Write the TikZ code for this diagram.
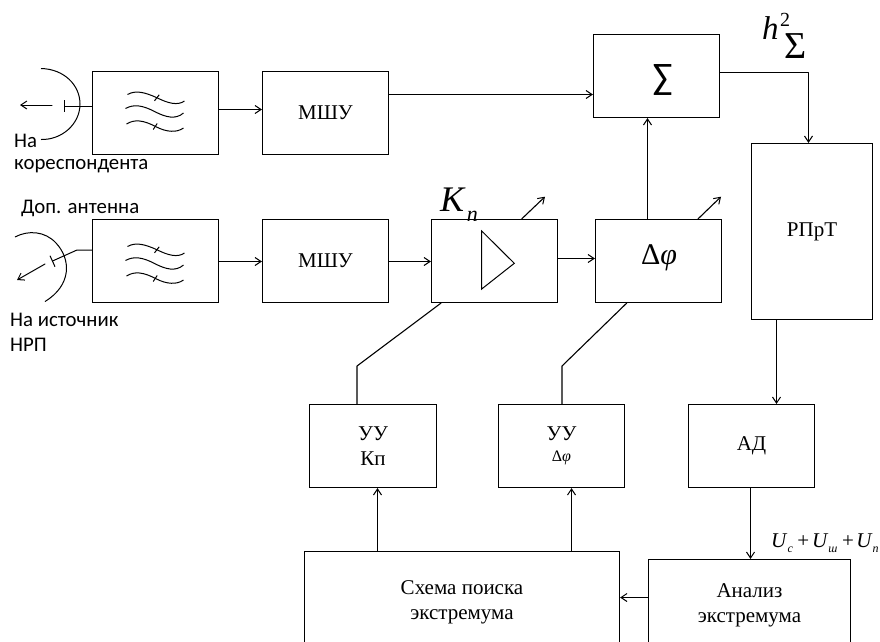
\documentclass[tikz,border=0pt]{standalone}
\usepackage{fontspec}
\setmainfont{Liberation Serif}
\newfontfamily\calfont{Carlito}
\usetikzlibrary{arrows.meta}
\newcommand{\fsz}[1]{\fontsize{#1}{#1}\selectfont}
\newcommand{\subtxt}[3]{\raisebox{#1}{\fsz{#2}\textit{#3}}}
\tikzset{
  box/.style={draw=black,line width=1.2pt,fill=white,inner sep=0pt,align=center,font=\fsz{21},execute at begin node=\setlength{\baselineskip}{25.5pt}},
  wire/.style={line width=1.1pt,line cap=round,line join=round},
  conn/.style={wire,-{Straight Barb[length=6pt,width=8pt,line width=1pt]}},
  thinw/.style={line width=1pt},
  side/.style={inner sep=0pt,anchor=west,font=\calfont\fsz{20.8}},
  free/.style={inner sep=0pt,anchor=base west},
  pics/filterwaves/.style={code={
    \draw[thinw] (-28,-18.5) .. controls (-20,-23) and (-11,-21) .. (2,-15) .. controls (12,-10) and (22,-7) .. (29,-12);
    \draw[thinw] (-30,-4.5) .. controls (-22,-9) and (-13,-8) .. (0,-1) .. controls (10,4) and (20,7) .. (28,0);
    \draw[thinw] (-29,11) .. controls (-21,6) and (-12,7) .. (1,14) .. controls (11,19) and (21,20) .. (28,15);
    \draw[thinw] (3.7,-18.2) -- (-1,-12.2);
    \draw[thinw] (1.7,10.5) -- (-2.3,16.5);
  }}
}
\begin{document}
\begin{tikzpicture}[x=1pt,y=-1pt]
\useasboundingbox (0,0) rectangle (880,641);
\clip (0,0) rectangle (880,641);
% boxes
\node[box,minimum width=126pt,minimum height=83pt] (f1) at (155.5,113) {};
\node[box,minimum width=126pt,minimum height=83pt] (m1) at (325.5,113) {МШУ};
\node[box,minimum width=126pt,minimum height=83pt] (sum) at (656.5,76) {};
\node[box,minimum width=121pt,minimum height=176pt] (rp) at (812,231.5) {РПрТ};
\node[box,minimum width=126pt,minimum height=83pt] (f2) at (155.5,261) {};
\node[box,minimum width=126pt,minimum height=83pt] (m2) at (325.5,261) {МШУ};
\node[box,minimum width=126pt,minimum height=83pt] (kn) at (494.5,261) {};
\node[box,minimum width=126pt,minimum height=83pt] (ph) at (658.5,261) {};
\node[box,minimum width=127pt,minimum height=83pt] (uk) at (373,446) {УУ\\Кп};
\node[box,minimum width=126pt,minimum height=83pt] (up) at (561.5,446) {УУ\\[-5pt]\fsz{16}Δ\textit{φ}};
\node[box,minimum width=126pt,minimum height=83pt] (ad) at (751.5,446) {АД};
\node[box,minimum width=315pt,minimum height=102pt] (sc) at (462,602.5) {Схема поиска\\экстремума};
\node[box,minimum width=202pt,minimum height=92pt] (an) at (749.5,605.5) {Анализ\\экстремума};
\node[inner sep=0pt] (lsum) at (662.5,79.5) {\calfont\fsz{37}∑};
\node[inner sep=0pt] (lph) at (659,258) {\fsz{30}Δ\textit{φ}};
% filter and amplifier symbols
\pic at (f1.center) {filterwaves};
\pic at ([yshift=-4pt]f2.center) {filterwaves};
\draw[thinw] (481.7,231) coordinate (t1) -- (514.3,263.3) coordinate (t2) -- (481.7,289) coordinate (t3) -- cycle;
% connectors
\draw[conn] (f1.east |- 0,109.5) -- (m1.west |- 0,109.5);
\draw[conn] (m1.east |- 0,94.5) -- (sum.west |- 0,94.5);
\draw[conn] (f2.east |- 0,261.5) -- (m2.west |- 0,261.5);
\draw[conn] (m2.east |- 0,261.5) -- (kn.west |- 0,261.5);
\draw[conn] (kn.east |- 0,258.5) -- (ph.west |- 0,258.5);
\draw[conn] (647.5,0 |- ph.north) -- (647.5,0 |- sum.south);
\draw[conn] (sum.east |- 0,72.5) -- (808.5,72.5) -- (808.5,0 |- rp.north);
\draw[conn] (776.5,0 |- rp.south) -- (776.5,0 |- ad.north);
\draw[conn] (750.5,0 |- ad.south) -- (750.5,0 |- an.north);
\draw[conn] (an.west |- 0,597.5) -- (sc.east |- 0,597.5);
\draw[conn] (377.5,0 |- sc.north) -- (377.5,0 |- uk.south);
\draw[conn] (571.5,0 |- sc.north) -- (571.5,0 |- up.south);
\draw[wire] (441,0 |- kn.south) -- (357,366) -- (357,0 |- uk.north);
\draw[wire] (626.7,0 |- ph.south) -- (562,366) -- (562,0 |- up.north);
\coordinate (ka) at (545,196.7);
\coordinate (pa) at (721,196.7);
\draw[conn] (521.7,0 |- kn.north) -- (ka);
\draw[conn] (698,0 |- ph.north) -- (pa);
% antenna 1
\coordinate (a1) at (64,106);
\draw[thinw] (f1.west |- a1) -- (a1);
\draw[thinw] (64,100) -- (64,112);
\draw[thinw] (41,68.5) .. controls (64,69) and (80,85) .. (80,104) .. controls (80,124) and (62,140) .. (41,139.5);
\coordinate (a1t) at (20,105);
\coordinate (a1s) at (52,105);
\draw[conn,thinw] (a1s) -- (a1t);
% antenna 2
\coordinate (a2) at (52.5,261);
\draw[thinw] (f2.west |- 0,250) -- (77,250) -- (a2);
\draw[thinw] (50,255.7) -- (55,266.7);
\draw[thinw] (15,237) .. controls (28,230) and (45,231) .. (56,243) .. controls (71,259) and (72,285) .. (45,301.5);
\coordinate (a2t) at (17,280);
\coordinate (a2s) at (45,264);
\draw[conn,thinw] (a2s) -- (a2t);
% labels
\node[side] (l1) at (14,141) {На};
\node[side] (l2) at (14,166) {кореспондента};
\node[side] (l3) at (21,208) {Доп. антенна};
\node[side] (l4) at (10,320) {На источник};
\node[side] (l5) at (10,345) {НРП};
\node[free] (lk) at (440,211) {\fsz{36}\textit{K}\hspace{1pt}\subtxt{-10pt}{22}{n}};
\node[free] (lh) at (762,39) {\fsz{33}\textit{h}};
\node[free] (l2h) at (780,26) {\fsz{20}2};
\node[free] (ls) at (784,58) {\fsz{38}Σ};
\node[free] (lu) at (771,547) {\fsz{21}\textit{U}\subtxt{-5pt}{12}{с}\hspace{4.5pt}+\hspace{3pt}\textit{U}\subtxt{-5pt}{12}{ш}\hspace{4.5pt}+\hspace{2.5pt}\textit{U}\subtxt{-5pt}{12}{п}};
\end{tikzpicture}
\end{document}
